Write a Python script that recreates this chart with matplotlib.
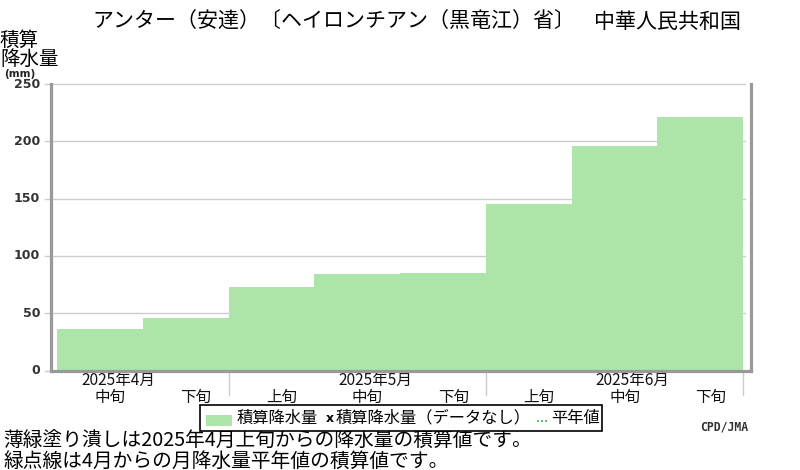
import matplotlib
matplotlib.use("Agg")
import matplotlib.pyplot as plt
from matplotlib.patches import Rectangle
from matplotlib.lines import Line2D
from matplotlib.transforms import blended_transform_factory

plt.rcParams['font.family'] = ['Noto Sans CJK JP', 'DejaVu Sans']

# Cumulative precipitation (mm) for each dekad
dekad_labels = ["中旬", "下旬", "上旬", "中旬", "下旬", "上旬", "中旬", "下旬"]
cum_precip = [36, 45.5, 73, 84, 85, 145, 195.5, 221]
month_labels = ["2025年4月", "2025年5月", "2025年6月"]
month_label_pos = [0, 3, 6]        # dekad index carrying the month label
month_bounds = [2, 5, 8]           # dekad index where a month ends
y_ticks = [0, 50, 100, 150, 200, 250]

title_station = "アンター（安達）〔ヘイロンチアン（黒竜江）省〕"
title_country = "中華人民共和国"
note1 = "薄緑塗り潰しは2025年4月上旬からの降水量の積算値です。"
note2 = "緑点線は4月からの月降水量平年値の積算値です。"

W, H = 800, 470
fig = plt.figure(figsize=(W / 100, H / 100), dpi=100)


def fx(px):
    return px / W


def fy(py):
    return 1 - py / H


BAR = "#ace4aa"
GRID = "#cccccc"
SPINE = "#999999"

ax = fig.add_axes([fx(51), fy(370.5), 700 / W, 286.5 / H])
n = len(cum_precip)
ax.set_xlim(-0.07, n + 0.093)
ax.set_ylim(0, 250)

ax.bar(range(n), cum_precip, width=1.0, align="edge", color=BAR,
       edgecolor="none", zorder=2)

for t in y_ticks:
    ax.axhline(t, xmin=-0.0086, xmax=0.991, color=GRID, lw=1.0,
               zorder=1, clip_on=False)

for side in ("left", "right", "bottom"):
    ax.spines[side].set_color(SPINE)
    ax.spines[side].set_linewidth(2.3)
    ax.spines[side].set_zorder(3)
ax.spines["top"].set_visible(False)
ax.set_xticks([])
ax.set_yticks([])

# month boundary marks below the axis
xb = blended_transform_factory(ax.transData, fig.transFigure)
for b in month_bounds:
    ax.plot([b, b], [fy(372), fy(395)], color=GRID, lw=1.0,
            transform=xb, clip_on=False, zorder=1)

# dekad labels and month labels
for i, lab in enumerate(dekad_labels):
    ax.text(i + 0.5 + 0.12, fy(397), lab, transform=xb, ha="center",
            va="center", fontsize=11.2, color="#111111")
for lab, i in zip(month_labels, month_label_pos):
    ax.text(i + 0.5 + 0.215, fy(380), lab, transform=xb, ha="center",
            va="center", fontsize=11.2, color="#111111")

# y tick labels
yb = blended_transform_factory(fig.transFigure, ax.transData)
for t in y_ticks:
    ax.text(fx(40), t, str(t), transform=yb, ha="right", va="center",
            fontsize=9, fontweight="bold", family="DejaVu Sans",
            color="#333333")

# y axis caption
fig.text(fx(0), fy(40), "積算", ha="left", va="center", fontsize=14)
fig.text(fx(0), fy(59), "降水量", ha="left", va="center", fontsize=14)
fig.text(fx(4), fy(74), "(mm)", ha="left", va="center", fontsize=7.5,
         fontweight="bold", family="DejaVu Sans", color="#222222")

# title
fig.text(fx(92), fy(22), title_station, ha="left", va="center",
         fontsize=15.1)
fig.text(fx(741), fy(22), title_country, ha="right", va="center",
         fontsize=15.1)

# legend
fig.patches.append(Rectangle((fx(200), fy(431)), fx(402), 26 / H,
                             transform=fig.transFigure, facecolor="white",
                             edgecolor="black", lw=1.2, zorder=5))
fig.patches.append(Rectangle((fx(206), fy(426)), fx(26), 11 / H,
                             transform=fig.transFigure, facecolor=BAR,
                             edgecolor="none", zorder=6))
fig.text(fx(237), fy(418), "積算降水量", ha="left", va="center",
         fontsize=11.7, zorder=7)
fig.text(fx(330), fy(419), "x", ha="center", va="center", fontsize=9,
         fontweight="bold", family="DejaVu Sans", zorder=7)
fig.text(fx(336), fy(418), "積算降水量（データなし）", ha="left",
         va="center", fontsize=11.7, zorder=7)
fig.lines.append(Line2D([fx(537), fx(549)], [fy(421), fy(421)],
                        transform=fig.transFigure, color="#22aa22",
                        lw=1.2, linestyle=(0, (1, 1.5)), zorder=7))
fig.text(fx(551), fy(418), "平年値", ha="left", va="center",
         fontsize=11.7, zorder=7)

fig.text(fx(748), fy(427), "CPD/JMA", ha="right", va="center",
         fontsize=8.3, fontweight="bold", family="DejaVu Sans Mono",
         color="#333333")

# notes
fig.text(fx(3), fy(441), note1, ha="left", va="center", fontsize=14.2)
fig.text(fx(3), fy(461), note2, ha="left", va="center", fontsize=14.2)

fig.savefig("out.png", dpi=100)
